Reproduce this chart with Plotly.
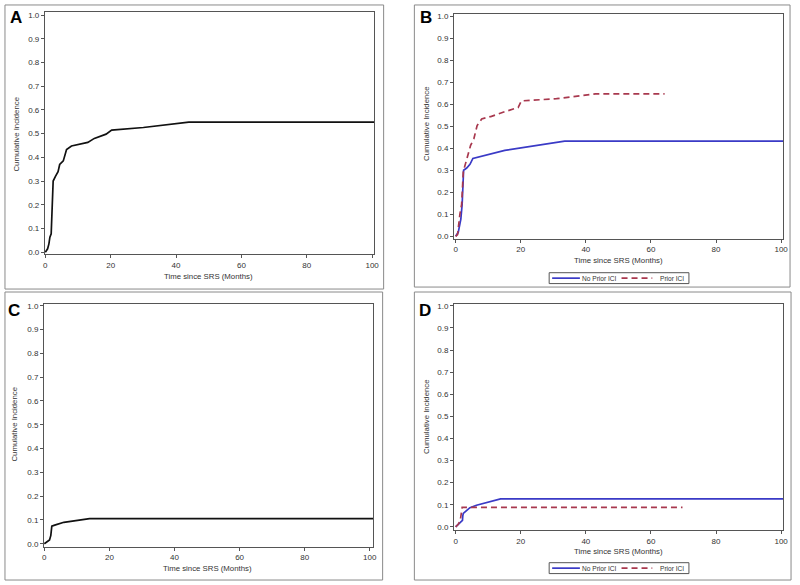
import plotly.graph_objects as go

# ---------------- data ----------------
a_time = [0, 0.7, 1.1, 1.4, 1.8, 2.1, 2.3, 2.4, 3.1, 3.9, 4.4, 5.5, 6.5, 8.0, 13.0, 15.0, 18.6, 20.3, 30.0, 43.9, 101]
a_cif = [0, 0.014, 0.035, 0.063, 0.077, 0.16, 0.216, 0.30, 0.32, 0.34, 0.37, 0.385, 0.433, 0.448, 0.463, 0.48, 0.498, 0.515, 0.526, 0.549, 0.549]

b_noprior_time = [0, 0.8, 1.6, 2.0, 2.45, 3.4, 4.4, 5.3, 15.1, 33.5, 101]
b_noprior_cif = [0, 0.018, 0.078, 0.145, 0.30, 0.31, 0.327, 0.354, 0.39, 0.432, 0.432]
b_prior_time = [0, 0.6, 1.3, 1.84, 2.35, 3.4, 4.6, 5.6, 6.6, 8.0, 11.0, 15.1, 19.2, 20.2, 31.0, 39.0, 43.0, 64.2]
b_prior_cif = [0, 0.008, 0.10, 0.145, 0.294, 0.354, 0.413, 0.443, 0.503, 0.533, 0.545, 0.566, 0.585, 0.615, 0.625, 0.64, 0.647, 0.647]

c_time = [0, 0.8, 1.6, 2.0, 2.3, 3.2, 6.0, 13.9, 101]
c_cif = [0, 0.008, 0.016, 0.035, 0.074, 0.078, 0.090, 0.105, 0.105]

d_noprior_time = [0, 0.8, 1.8, 2.1, 2.2, 2.35, 4.4, 6.4, 13.8, 101]
d_noprior_cif = [0, 0.012, 0.024, 0.03, 0.05, 0.061, 0.087, 0.098, 0.127, 0.127]
d_prior_time = [0, 0.8, 1.4, 1.8, 2.0, 69.7]
d_prior_cif = [0, 0.012, 0.027, 0.072, 0.088, 0.088]

x_ticks = [0, 20, 40, 60, 80, 100]
y_ticks = [0.0, 0.1, 0.2, 0.3, 0.4, 0.5, 0.6, 0.7, 0.8, 0.9, 1.0]
x_title = "Time since SRS (Months)"
y_title = "Cumulative Incidence"
panel_letters = ["A", "B", "C", "D"]
group_names = ["No Prior ICI", "Prior ICI"]

# ---------------- style ----------------
W, H = 800, 585
BLACK = "#111111"
BLUE = "#3A3AC6"
RED = "#A8384E"
AXIS = "#555555"
FONT = "Liberation Sans, Arial, sans-serif"
DASH = "6px,4px"

def px_x(v):
    return v / W

def px_y(v):
    return 1 - v / H

fig = go.Figure()

# A
fig.add_trace(go.Scatter(x=a_time, y=a_cif, mode="lines", line=dict(color=BLACK, width=1.7),
                         xaxis="x", yaxis="y", showlegend=False))
# B
fig.add_trace(go.Scatter(x=b_noprior_time, y=b_noprior_cif, mode="lines", name=group_names[0],
                         line=dict(color=BLUE, width=1.7), xaxis="x2", yaxis="y2", showlegend=False))
fig.add_trace(go.Scatter(x=b_prior_time, y=b_prior_cif, mode="lines", name=group_names[1],
                         line=dict(color=RED, width=1.7, dash=DASH), xaxis="x2", yaxis="y2", showlegend=False))
# C
fig.add_trace(go.Scatter(x=c_time, y=c_cif, mode="lines", line=dict(color=BLACK, width=1.7),
                         xaxis="x3", yaxis="y3", showlegend=False))
# D
fig.add_trace(go.Scatter(x=d_noprior_time, y=d_noprior_cif, mode="lines", name=group_names[0],
                         line=dict(color=BLUE, width=1.7), xaxis="x4", yaxis="y4", showlegend=False))
fig.add_trace(go.Scatter(x=d_prior_time, y=d_prior_cif, mode="lines", name=group_names[1],
                         line=dict(color=RED, width=1.7, dash=DASH), xaxis="x4", yaxis="y4", showlegend=False))

# plot areas in pixels: (left, right, top, bottom), ranges
panels = [
    dict(l=43.3, r=375.7, t=9.3, b=254.0, xr=[-0.12, 100.7], yr=[-0.0095, 1.0125]),
    dict(l=456.0, r=788.3, t=10.7, b=238.0, xr=[-0.5, 100.7], yr=[-0.0103, 1.0117]),
    dict(l=42.3, r=374.3, t=304.3, b=549.3, xr=[-0.12, 101.0], yr=[-0.0125, 1.007]),
    dict(l=456.0, r=788.3, t=304.0, b=532.7, xr=[-0.5, 100.7], yr=[-0.0152, 1.009]),
]

axis_common = dict(showline=True, linecolor=AXIS, linewidth=1, mirror=True, showgrid=False,
                   zeroline=False, ticks="outside", ticklen=3, tickcolor=AXIS, tickwidth=1,
                   tickfont=dict(family=FONT, size=8, color="#333333"), fixedrange=True)

layout = {}
for i, p in enumerate(panels):
    suf = "" if i == 0 else str(i + 1)
    layout["xaxis" + suf] = dict(axis_common, domain=[px_x(p["l"]), px_x(p["r"])], range=p["xr"],
                                 tickvals=x_ticks, anchor="y" + suf)
    layout["yaxis" + suf] = dict(axis_common, domain=[px_y(p["b"]), px_y(p["t"])], range=p["yr"],
                                 tickvals=y_ticks, tickformat=".1f", anchor="x" + suf)
fig.update_layout(**layout)

# panel borders
borders = [(3, 2, 385, 289), (416, 2, 795, 287), (3, 292, 384, 583), (416, 292, 796, 583)]
shapes = []
for (x0, y0, x1, y1) in borders:
    shapes.append(dict(type="rect", xref="paper", yref="paper", x0=px_x(x0), x1=px_x(x1),
                       y0=px_y(y1), y1=px_y(y0), line=dict(color="#8a8a8a", width=1), layer="below"))

annotations = []
letter_pos = [(14, 15), (428, 15), (12, 311), (427, 311)]
for letter, (lx, ly) in zip(panel_letters, letter_pos):
    annotations.append(dict(text="<b>%s</b>" % letter, x=px_x(lx), y=px_y(ly), xref="paper", yref="paper",
                            showarrow=False, xanchor="center", yanchor="middle",
                            font=dict(family=FONT, size=17, color="#000000")))
ytitle_pos = [(15, 132), (428, 122), (13, 425), (428, 418)]
for (tx, ty) in ytitle_pos:
    annotations.append(dict(text=y_title, x=px_x(tx), y=px_y(ty), xref="paper", yref="paper",
                            showarrow=False, textangle=-90, xanchor="center", yanchor="middle",
                            font=dict(family=FONT, size=7.8, color="#333333")))
xtitle_pos = [(208, 276), (622, 260), (207, 571), (622, 554)]
for (tx, ty) in xtitle_pos:
    annotations.append(dict(text=x_title, x=px_x(tx), y=px_y(ty), xref="paper", yref="paper",
                            showarrow=False, xanchor="center", yanchor="middle",
                            font=dict(family=FONT, size=7.8, color="#333333")))

# compact legends (box, key lines, labels) for panels B and D
for cy in (278, 571):
    shapes.append(dict(type="rect", xref="paper", yref="paper", x0=px_x(552), x1=px_x(693),
                       y0=px_y(cy + 5.5), y1=px_y(cy - 5.5), line=dict(color="#555555", width=1),
                       fillcolor="white", layer="below"))
    shapes.append(dict(type="line", xref="paper", yref="paper", x0=px_x(555), x1=px_x(583),
                       y0=px_y(cy), y1=px_y(cy), line=dict(color=BLUE, width=1.7)))
    shapes.append(dict(type="line", xref="paper", yref="paper", x0=px_x(625), x1=px_x(656),
                       y0=px_y(cy), y1=px_y(cy), line=dict(color=RED, width=1.7, dash=DASH)))
    annotations.append(dict(text=group_names[0], x=px_x(602.5), y=px_y(cy), xref="paper", yref="paper",
                            showarrow=False, xanchor="center", yanchor="middle",
                            font=dict(family=FONT, size=6.6, color="#333333")))
    annotations.append(dict(text=group_names[1], x=px_x(675.5), y=px_y(cy), xref="paper", yref="paper",
                            showarrow=False, xanchor="center", yanchor="middle",
                            font=dict(family=FONT, size=6.6, color="#333333")))

fig.update_layout(
    width=W, height=H, margin=dict(l=0, r=0, t=0, b=0),
    paper_bgcolor="white", plot_bgcolor="white",
    shapes=shapes, annotations=annotations, showlegend=False,
    font=dict(family=FONT),
)

fig.write_html("out.html")
